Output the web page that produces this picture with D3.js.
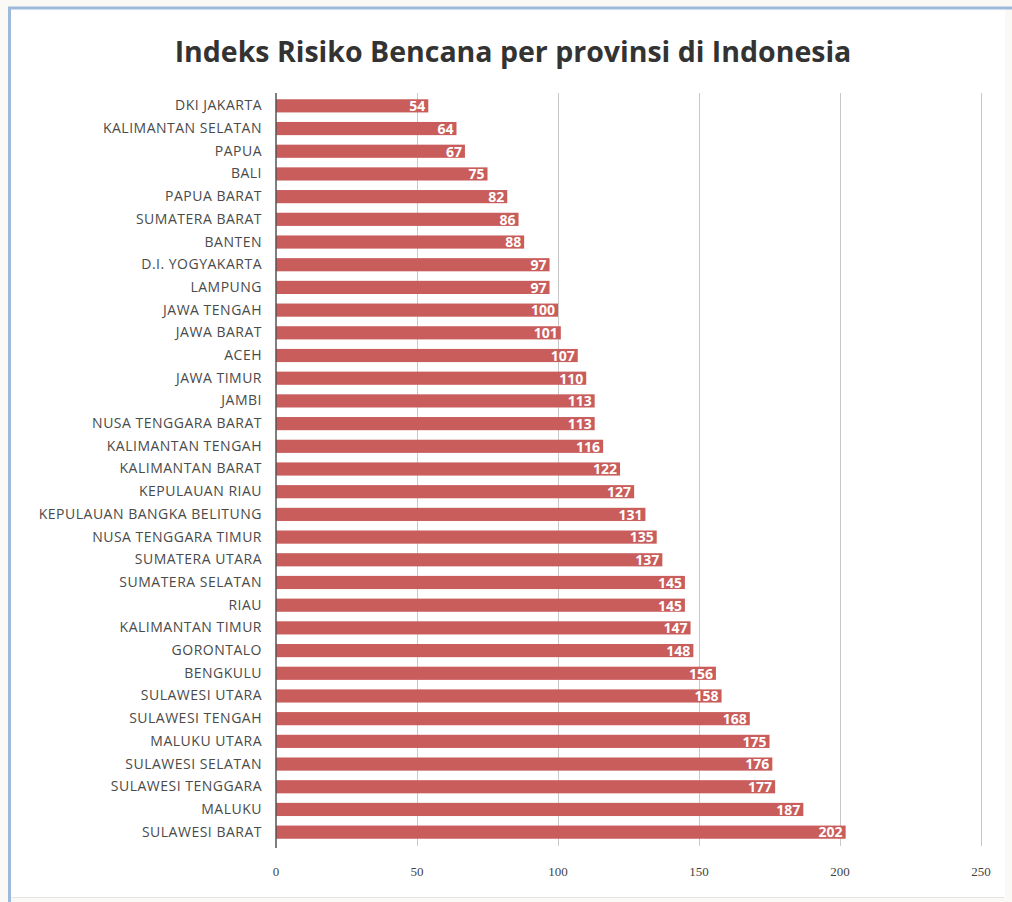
<!DOCTYPE html>
<html>
<head>
<meta charset="utf-8">
<script src="https://cdn.jsdelivr.net/npm/d3@7"></script>
<style>
  body { margin: 0; background: #fbf9f5; }
  svg { display: block; }
</style>
</head>
<body>
<svg id="chart"></svg>
<script>
// data, top to bottom
var provinces = ["DKI JAKARTA", "KALIMANTAN SELATAN", "PAPUA", "BALI", "PAPUA BARAT", "SUMATERA BARAT",
    "BANTEN", "D.I.  YOGYAKARTA", "LAMPUNG", "JAWA TENGAH", "JAWA BARAT", "ACEH", "JAWA TIMUR", "JAMBI",
    "NUSA TENGGARA BARAT", "KALIMANTAN TENGAH", "KALIMANTAN BARAT", "KEPULAUAN RIAU",
    "KEPULAUAN BANGKA BELITUNG", "NUSA TENGGARA TIMUR", "SUMATERA UTARA", "SUMATERA SELATAN", "RIAU",
    "KALIMANTAN TIMUR", "GORONTALO", "BENGKULU", "SULAWESI UTARA", "SULAWESI TENGAH", "MALUKU UTARA",
    "SULAWESI SELATAN", "SULAWESI TENGGARA", "MALUKU", "SULAWESI BARAT"];
var scores = [54, 64, 67, 75, 82, 86, 88, 97, 97, 100, 101, 107, 110, 113, 113, 116, 122, 127, 131, 135,
    137, 145, 145, 147, 148, 156, 158, 168, 175, 176, 177, 187, 202];
var xTicks = [0, 50, 100, 150, 200, 250];
var title = "Indeks Risiko Bencana per provinsi di Indonesia";

var width = 1012, height = 902;
var font = "'Open Sans', 'Noto Sans', sans-serif";

var svg = d3.select('#chart')
    .attr('width', width)
    .attr('height', height);

// frame
svg.append('rect')
    .attr('x', 10).attr('y', 9)
    .attr('width', 995).attr('height', 889)
    .attr('fill', '#fff');
svg.append('line')
    .attr('x1', 8).attr('x2', width).attr('y1', 8).attr('y2', 8)
    .attr('stroke', '#9db9dc').attr('stroke-width', 3);
svg.append('line')
    .attr('x1', 9.5).attr('x2', 9.5).attr('y1', 7).attr('y2', height)
    .attr('stroke', '#9db9dc').attr('stroke-width', 3);
svg.append('line')
    .attr('x1', 11).attr('x2', 1004).attr('y1', 897.5).attr('y2', 897.5)
    .attr('stroke', '#e4e4e4').attr('stroke-width', 1);

svg.append('text')
    .attr('x', 513).attr('y', 62)
    .attr('text-anchor', 'middle')
    .style('font-family', font)
    .style('font-size', '28.5px')
    .style('font-weight', 'bold')
    .attr('fill', '#333')
    .text(title);

var x = d3.scaleLinear()
    .domain([0, 250])
    .range([276, 981]);

var y = d3.scaleBand()
    .domain(provinces)
    .range([94.5, 843.5])
    .paddingInner(0.42)
    .paddingOuter(0.21);

// grid
svg.append('g')
    .selectAll('line')
    .data(xTicks.slice(1))
    .enter().append('line')
    .attr('x1', function (d) { return x(d) + 0.5; })
    .attr('x2', function (d) { return x(d) + 0.5; })
    .attr('y1', 93).attr('y2', 846)
    .attr('stroke', '#c8c8c8').attr('stroke-width', 1);

// bars
svg.append('g')
    .selectAll('rect')
    .data(scores)
    .enter().append('rect')
    .attr('x', x(0))
    .attr('y', function (d, i) { return y(provinces[i]); })
    .attr('width', function (d) { return x(d) - x(0); })
    .attr('height', y.bandwidth())
    .attr('fill', '#c95d5b');

// value labels
svg.append('g')
    .selectAll('text')
    .data(scores)
    .enter().append('text')
    .attr('x', function (d) { return x(d) - 3; })
    .attr('y', function (d, i) { return y(provinces[i]) + y.bandwidth() / 2; })
    .attr('dy', '0.38em')
    .attr('text-anchor', 'end')
    .style('font-family', font)
    .style('font-size', '14px')
    .style('font-weight', 'bold')
    .attr('fill', '#fff')
    .text(function (d) { return d; });

// y axis
var yAxis = svg.append('g')
    .attr('transform', 'translate(' + x(0) + ',0)')
    .call(d3.axisLeft(y).tickSize(0).tickPadding(14));
yAxis.select('.domain')
    .attr('d', 'M0,93V848')
    .attr('stroke', '#555').attr('stroke-width', 1.5);
yAxis.selectAll('text')
    .style('font-family', font)
    .style('font-size', '14px')
    .style('letter-spacing', '0.5px')
    .attr('fill', '#4a4a4a');

// x axis labels
svg.append('g')
    .selectAll('text')
    .data(xTicks)
    .enter().append('text')
    .attr('x', function (d) { return x(d); })
    .attr('y', 876)
    .attr('text-anchor', 'middle')
    .style('font-family', "'Liberation Serif', serif")
    .style('font-size', '13px')
    .attr('fill', '#444')
    .text(function (d) { return d; });
</script>
</body>
</html>
